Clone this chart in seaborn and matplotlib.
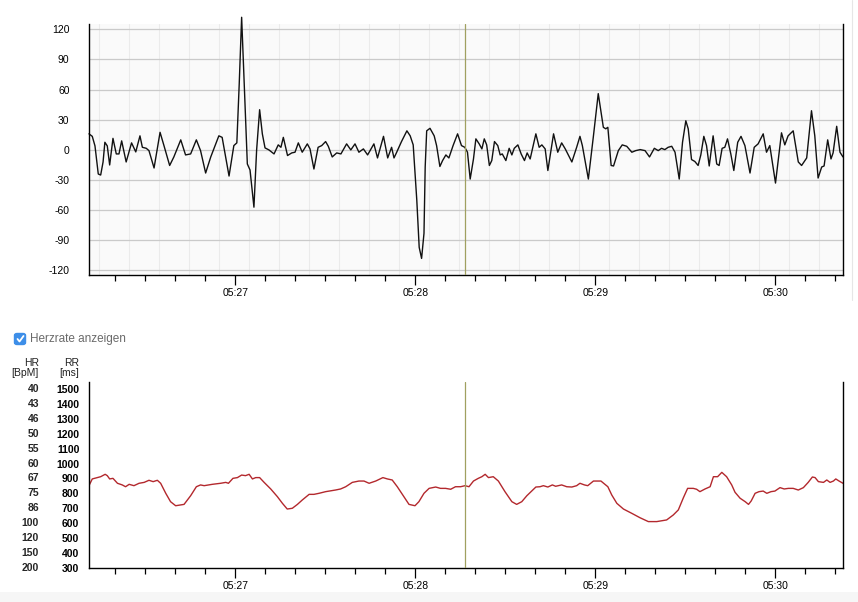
import numpy as np
import pandas as pd
import matplotlib
matplotlib.use('Agg')
import matplotlib.pyplot as plt
import seaborn as sns
from matplotlib.patches import FancyBboxPatch, Rectangle
from matplotlib.lines import Line2D
from matplotlib.ticker import FixedLocator, MultipleLocator

sns.set_style('white')
plt.rcParams['font.family'] = ['Liberation Sans', 'DejaVu Sans']
plt.rcParams['font.size'] = 7

# time axis: seconds after 05:26:00
signal_t = [11.2, 12.3, 13.2, 14.3, 15.1, 15.9, 16.5, 17.3, 18.1, 19.2, 20.3, 21.2, 22.1, 23.6,
            25.4, 26.8, 28.2, 29.0, 30.3, 31.2, 32.9, 34.9, 36.2, 38.1, 39.5, 41.8, 43.4, 45.1,
            47.0, 48.4, 50.1, 51.8, 54.5, 55.6, 57.9, 59.5, 60.5, 61.3, 62.1, 63.2, 64.0, 64.9,
            66.2, 67.1, 68.1, 69.0, 69.9, 71.2, 72.9, 74.3, 75.2, 76.0, 77.4, 78.8, 79.9, 81.0,
            82.3, 84.0, 84.9, 86.2, 87.6, 88.8, 90.1, 91.0, 92.3, 93.8, 95.2, 97.1, 98.5, 99.9,
            101.2, 102.7, 104.1, 106.2, 107.4, 109.4, 110.8, 112.1, 112.9, 113.8, 115.4, 117.2,
            118.3, 119.3, 120.5, 121.3, 122.1, 122.9, 123.3, 123.8, 124.9, 126.3, 127.1, 128.2,
            129.1, 130.2, 131.2, 132.6, 134.1, 135.4, 136.5, 137.4, 138.3, 139.4, 140.2, 141.3,
            142.2, 143.0, 143.8, 144.7, 145.5, 146.4, 147.5, 148.3, 149.0, 150.2, 151.3, 152.2,
            153.0, 154.2, 155.3, 156.4, 157.3, 158.3, 160.2, 161.3, 162.2, 163.3, 164.2, 166.1,
            167.5, 168.8, 170.0, 172.2, 173.8, 174.9, 175.7, 177.7, 179.4, 181.0, 182.7, 183.5,
            184.2, 185.3, 186.1, 187.7, 189.0, 190.5, 192.2, 193.5, 195.0, 196.6, 198.1, 199.7,
            201.0, 202.1, 203.2, 204.3, 205.5, 206.6, 208.0, 209.1, 210.2, 211.0, 212.1, 213.2,
            214.3, 215.2, 216.2, 217.1, 218.0, 219.3, 220.5, 221.3, 222.3, 223.2, 224.1, 225.2,
            226.2, 227.5, 228.6, 229.9, 231.6, 233.0, 234.3, 236.0, 237.1, 238.2, 240.1, 242.1,
            243.2, 244.3, 246.0, 247.7, 248.8, 250.5, 252.1, 253.2, 254.3, 255.5, 256.3, 257.5,
            258.6, 259.3, 260.5, 261.6, 262.6]
signal_v = [16, 13.5, 4, -24, -25, -12, 7.6, 4, -15, 11.5, -4, -4, 9, -12,
            7, -2, 14, 2.6, 1.6, -0.7, -18, 17.5, 4.3, -15.5, -7, 10, -5, -4,
            10, -0.7, -23, -7, 14, 12.5, -26, 4.3, 7, 66, 132, 49, -14, -20,
            -57, 0, 40, 16, 2, 0, -4, 5, 2.6, 12.5, -5.6, -3, -2.3, 7,
            -2.3, 6, 1, -19, 2.6, 4.3, 8.3, 3.6, -7, -3, -4, 6, 0, 6,
            -2.3, 1, -5, 6, -8, 13.5, -8, 2.6, -8, -2.3, 8.3, 19,
            14, 5, -50, -97, -108, -83, -17, 19, 21.5, 14, 4.3, -16.5,
            -10.6, -5, -8, 4.3, 16, 4.3, 2.6, -2.3, -29, -9, 11, 6,
            1, 11, 5, -15.5, -10.6, 8.3, 4.3, -5, -4, -10.6, 1.6, -5,
            1.6, 5, -4, -10.6, -3, -9, 16, 2.6, 5, 1, -20.5, 16,
            -2.3, 7, 1, -12, 2.6, 13.5, 4.3, -29, 14, 56, 22.5, 21,
            22.5, -15.5, -16, -0.7, 5, 3.6, -2.3, -0.7, 0.3, -0.7, -7, 1.6,
            -0.7, 1.6, 0.3, 2.6, 3.6, -2.3, -29, 7.6, 29, 21, -9.6, -11.5,
            -15.5, -5, 13.5, 4.3, -16, 14, -14, -15.5, 1.6, 2.6, 11, -4,
            -20.5, 7.6, 13.5, 4.3, -23, 2.6, 6, 16, -2.3, 4.3, -33, 17,
            5, 14, 19, -12, -15.5, -8, 39, 14, -28, -17, -16, 10,
            -9, -3, 23.5, -2.3, -7]

rr_t = [11.2, 12.3, 14.0, 15.1, 16.6, 17.3, 18.1, 19.2, 20.7, 22.3, 23.4, 24.6, 26.2, 27.9,
        29.6, 31.2, 32.6, 34.0, 35.1, 36.8, 38.4, 40.1, 42.9, 45.1, 47.0, 48.4, 49.6, 52.3,
        55.1, 56.8, 57.7, 59.2, 60.7, 62.1, 63.4, 64.6, 65.7, 66.8, 68.1, 69.6, 71.8, 74.0,
        75.7, 77.3, 79.0, 80.7, 82.3, 84.6, 86.2, 87.9, 90.1, 93.4, 95.1, 96.8, 99.0, 101.2,
        102.9, 104.6, 106.8, 109.2, 110.7, 112.3, 114.0, 116.2, 117.9, 119.9, 121.2, 122.9,
        124.6, 126.8, 128.4, 130.1, 131.8, 133.4, 135.1, 136.6, 137.9, 139.4, 141.0, 142.2,
        143.3, 144.4, 146.0, 147.7, 149.9, 152.2, 153.8, 155.5, 157.2, 158.8, 160.2, 161.6,
        162.7, 164.2, 165.7, 166.8, 168.8, 170.5, 172.2, 173.8, 174.9, 176.4, 177.5, 179.4,
        181.9, 184.2, 185.5, 187.2, 189.4, 192.2, 194.9, 197.7, 200.5, 203.8, 206.0, 207.7,
        209.4, 210.8, 212.7, 213.8, 214.9, 216.6, 218.3, 219.4, 220.8, 222.2, 223.8, 225.5,
        226.6, 228.3, 230.0, 231.1, 232.0, 233.3, 234.6, 236.0, 237.2, 238.6, 239.9, 241.6,
        243.0, 244.4, 246.0, 247.7, 249.4, 251.0, 252.4, 253.3, 254.4, 256.1, 257.2, 258.3,
        259.4, 260.2, 261.3, 262.6]
rr_ms = [852, 897, 906, 912, 928, 919, 897, 901, 868, 857, 845, 861, 852, 868,
         874, 888, 879, 888, 868, 801, 745, 718, 727, 785, 845, 857, 852, 861,
         868, 874, 868, 901, 906, 923, 919, 928, 897, 906, 906, 874, 830, 779,
         734, 696, 701, 727, 756, 794, 794, 801, 812, 823, 830, 845, 874, 883,
         883, 868, 883, 906, 897, 890, 845, 779, 727, 718, 745, 801,
         834, 843, 834, 834, 828, 845, 845, 852, 845, 883, 901, 912,
         928, 906, 912, 883, 812, 745, 727, 745, 785, 816, 843, 845,
         852, 843, 857, 848, 857, 845, 843, 852, 868, 857, 852, 883,
         883, 845, 790, 734, 696, 667, 638, 612, 612, 623, 656, 690,
         772, 834, 834, 828, 812, 830, 845, 912, 912, 941, 912, 857,
         808, 768, 745, 727, 750, 801, 812, 816, 801, 812, 816, 839,
         830, 834, 834, 823, 839, 874, 910, 906, 879, 874, 890, 874,
         883, 897, 883, 868]

major_t = [60, 120, 180, 240]
major_labels = ['05:27', '05:28', '05:29', '05:30']
amp_ticks = [-120, -90, -60, -30, 0, 30, 60, 90, 120]
rr_ticks = [300, 400, 500, 600, 700, 800, 900, 1000, 1100, 1200, 1300, 1400, 1500]
hr_labels = ['200', '150', '120', '100', '86', '75', '67', '60', '55', '50', '46', '43', '40']
cursor_t = 136.7

df_sig = pd.DataFrame({'t': signal_t, 'v': signal_v})
df_rr = pd.DataFrame({'t': rr_t, 'rr': rr_ms})

fig = plt.figure(figsize=(8.58, 6.02), dpi=100)
ax1 = fig.add_axes([0.1037, 0.5432, 0.8788, 0.4169])
ax2 = fig.add_axes([0.1037, 0.0560, 0.8788, 0.3100])

xlim = (11.2, 262.6)

# ---- top chart ----
ax1.set_facecolor('#fafafa')
for g in np.arange(14.67, 263, 10):
    ax1.axvline(g, color='#ebebeb', lw=0.8, zorder=0)
for v in amp_ticks:
    ax1.axhline(v, color='#cacaca', lw=0.9, zorder=0)
sns.lineplot(data=df_sig, x='t', y='v', ax=ax1, color='#111111', linewidth=1.0,
             estimator=None, sort=False, clip_on=False, solid_joinstyle='round')
ax1.set_xlim(*xlim)
ax1.set_ylim(-124.5, 125.3)
ax1.set_yticks(amp_ticks)
ax1.set_yticklabels([str(v) for v in amp_ticks])
ax1.tick_params(axis='y', length=8.5, width=0.9, pad=5.5, colors='black', labelsize=7.5)

# ---- bottom chart ----
ax2.set_facecolor('white')
sns.lineplot(data=df_rr, x='t', y='rr', ax=ax2, color='#b3282d', linewidth=1.0,
             estimator=None, sort=False, solid_joinstyle='round')
ax2.set_xlim(*xlim)
ax2.set_ylim(300, 1547)
ax2.set_yticks(rr_ticks)
ax2.set_yticklabels([str(v) for v in rr_ticks], fontweight='bold')
ax2.tick_params(axis='y', length=5, width=0.9, pad=2, colors='black', labelsize=7.5)
for v, lab in zip(rr_ticks, hr_labels):
    ax2.text(-0.0663, v, lab, transform=ax2.get_yaxis_transform(), ha='right', va='center',
             fontsize=7.5, fontweight='bold')

for ax in (ax1, ax2):
    ax.xaxis.set_major_locator(FixedLocator(major_t))
    ax.set_xticklabels(major_labels)
    ax.xaxis.set_minor_locator(MultipleLocator(10))
    ax.tick_params(axis='x', which='major', length=7.2, width=0.9, pad=2, labelsize=7.5,
                   colors='black', bottom=True)
    ax.tick_params(axis='x', which='minor', length=4.3, width=0.9, bottom=True, colors='black')
    ax.axvline(cursor_t, color='#a0a060', lw=0.9, zorder=5)
    ax.set_xlabel('')
    ax.set_ylabel('')
    ax.spines['top'].set_visible(False)
    for s in ('left', 'right', 'bottom'):
        ax.spines[s].set_visible(True)
        ax.spines[s].set_color('black')
        ax.spines[s].set_linewidth(1.0)

# headers for the two y scales
fig.text(39 / 858, 1 - 368 / 602, 'HR\n[BpM]', ha='right', va='center', multialignment='right',
         fontsize=7.5, color='#222222', linespacing=1.1)
fig.text(79 / 858, 1 - 368 / 602, 'RR\n[ms]', ha='right', va='center', multialignment='right',
         fontsize=7.5, color='#222222', linespacing=1.1)

# checkbox
box = FancyBboxPatch((14.5 / 858, 1 - 344.5 / 602), 11 / 858, 11 / 602,
                     boxstyle='round,pad=0,rounding_size=0.003', transform=fig.transFigure,
                     facecolor='#3d8ee8', edgecolor='#3d8ee8')
fig.add_artist(box)
fig.add_artist(Line2D([17.5 / 858, 19.5 / 858, 23.5 / 858],
                      [1 - 339 / 602, 1 - 341.5 / 602, 1 - 336 / 602],
                      transform=fig.transFigure, color='white', lw=1.3))
fig.text(30 / 858, 1 - 339 / 602, 'Herzrate anzeigen', ha='left', va='center',
         fontsize=8.5, color='#6a6a6a')

# light band at the bottom and right edge line
fig.add_artist(Rectangle((0, 0), 1, 10.5 / 602, transform=fig.transFigure,
                         facecolor='#f6f6f6', edgecolor='none'))
fig.add_artist(Line2D([851.5 / 858, 851.5 / 858], [1 - 300 / 602, 1],
                      transform=fig.transFigure, color='#e6e6e6', lw=0.8))

plt.savefig('out.png', dpi=100)
plt.close()
